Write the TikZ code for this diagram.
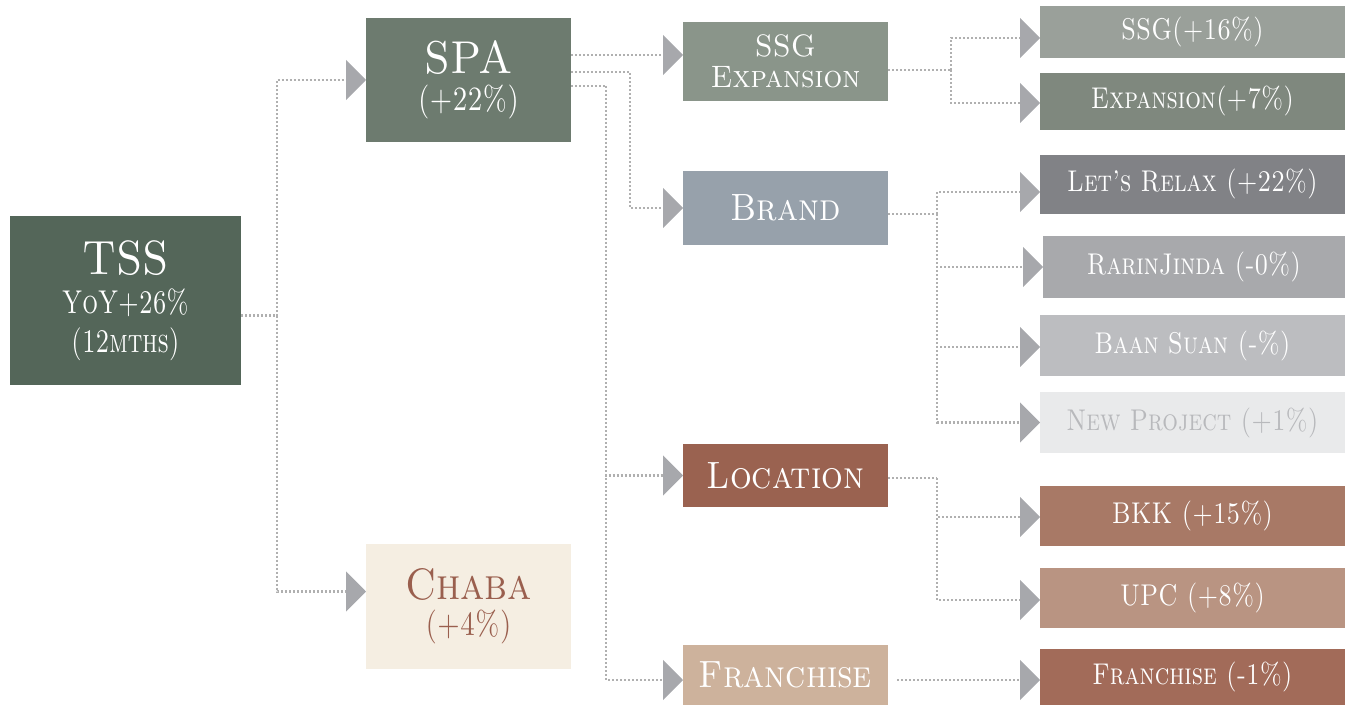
\documentclass[tikz,border=0pt]{standalone}
\usepackage{graphicx}
\usetikzlibrary{arrows.meta}
\definecolor{ctss}{HTML}{546659}
\definecolor{cspa}{HTML}{6D7B6F}
\definecolor{cchaba}{HTML}{F5EEE2}
\definecolor{tchaba}{HTML}{9A5F4E}
\definecolor{cssgx}{HTML}{8A958A}
\definecolor{cbrand}{HTML}{97A1AB}
\definecolor{cloc}{HTML}{9A6250}
\definecolor{cfran}{HTML}{CDB29C}
\definecolor{cssg}{HTML}{9AA09A}
\definecolor{cexp}{HTML}{7F887E}
\definecolor{clets}{HTML}{818286}
\definecolor{crarin}{HTML}{A8A9AC}
\definecolor{cbaan}{HTML}{BCBDC0}
\definecolor{cnew}{HTML}{E9EAEB}
\definecolor{tnew}{HTML}{B8B9BC}
\definecolor{cbkk}{HTML}{A87966}
\definecolor{cupc}{HTML}{B99482}
\definecolor{cfran2}{HTML}{A26B59}
\definecolor{tipgray}{HTML}{A7A8AC}
\definecolor{linegray}{HTML}{B0B0B0}
\newcommand{\fs}[2]{\fontsize{#1}{#2}\selectfont}
\newcommand{\sx}[2]{\scalebox{#1}[1]{#2}}
\newcommand{\rc}[1]{\sx{0.82}{#1}}
\newcommand{\mc}[1]{\sx{0.9}{#1}}
\tikzset{
  box/.style={rectangle, inner sep=0pt, outer sep=0pt, text=white, align=center, font=\scshape},
  rbox/.style={box, font=\scshape\fs{30}{32}},
  mbox/.style={box, font=\scshape\fs{38}{40}},
  conn/.style={draw=linegray, line width=2.2pt, dash pattern=on 2pt off 2pt,
    -{Triangle[width=40pt,length=20pt,color=tipgray]}},
  plain/.style={draw=linegray, line width=2.2pt, dash pattern=on 2pt off 2pt},
}
\begin{document}
\begin{tikzpicture}[x=1pt,y=-1pt]
\useasboundingbox (0,0) rectangle (1345,706);
% level 0
\node[box, font=\scshape\fs{33}{39}, fill=ctss, minimum width=231pt, minimum height=169pt] (tss) at (125.5,300.5)
  {\fs{48}{39}\sx{0.9}{TSS}\\\sx{0.75}{YoY+26\%}\\\sx{0.75}{(12mths)}};
% level 1
\node[box, font=\scshape\fs{34}{37}, fill=cspa, minimum width=205pt, minimum height=124pt] (spa) at (468.5,80)
  {\fs{46}{37}\sx{0.92}{SPA}\\\sx{0.8}{(+22\%)}};
\node[box, font=\scshape\fs{34}{36}, fill=cchaba, text=tchaba, minimum width=205pt, minimum height=125pt] (chaba) at (468.5,606.5)
  {\fs{44}{36}\sx{0.9}{Chaba}\\\sx{0.8}{(+4\%)}};
% level 2
\node[box, font=\scshape\fs{31}{31}, fill=cssgx, minimum width=205pt, minimum height=79pt] (ssgx) at (785.5,61.5)
  {\sx{0.95}{SSG}\\\sx{0.95}{Expansion}};
\node[mbox, fill=cbrand, minimum width=205pt, minimum height=74pt] (brand) at (785.5,208)
  {\mc{Brand}};
\node[mbox, fill=cloc, minimum width=205pt, minimum height=63pt] (loc) at (785.5,475.5)
  {\mc{Location}};
\node[mbox, fill=cfran, minimum width=205pt, minimum height=60pt] (fran) at (785.5,675)
  {\mc{Franchise}};
% level 3
\node[rbox, fill=cssg, minimum width=305pt, minimum height=52pt] (ssg) at (1192.5,32)
  {\rc{SSG(+16\%)}};
\node[rbox, fill=cexp, minimum width=305pt, minimum height=57pt] (exp) at (1192.5,101.5)
  {\rc{Expansion(+7\%)}};
\node[rbox, fill=clets, minimum width=305pt, minimum height=59pt] (lets) at (1192.5,184.5)
  {\rc{Let's Relax (+22\%)}};
\node[rbox, fill=crarin, minimum width=302pt, minimum height=62pt] (rarin) at (1194,267)
  {\rc{RarinJinda (-0\%)}};
\node[rbox, fill=cbaan, minimum width=305pt, minimum height=61pt] (baan) at (1192.5,345.5)
  {\rc{Baan Suan (-\%)}};
\node[rbox, fill=cnew, text=tnew, minimum width=305pt, minimum height=61pt] (new) at (1192.5,422.5)
  {\rc{New Project (+1\%)}};
\node[rbox, fill=cbkk, minimum width=305pt, minimum height=60pt] (bkk) at (1192.5,516)
  {\rc{BKK (+15\%)}};
\node[rbox, fill=cupc, minimum width=305pt, minimum height=60pt] (upc) at (1192.5,598)
  {\rc{UPC (+8\%)}};
\node[rbox, fill=cfran2, minimum width=305pt, minimum height=56pt] (fran2) at (1192.5,677)
  {\rc{Franchise (-1\%)}};
% connectors
\draw[plain] ([yshift=-15pt]tss.east) -- ++(36,0) coordinate (j0);
\draw[conn] (j0) |- (spa.west);
\draw[conn] (j0) |- ([yshift=15pt]chaba.west);
\draw[conn] ([yshift=25pt]spa.east) -- ([yshift=6.5pt]ssgx.west);
\draw[conn] ([yshift=8pt]spa.east) -- ++(59,0) |- (brand.west);
\draw[plain] ([yshift=-6pt]spa.east) -- ++(35,0) coordinate (j3);
\draw[conn] (j3) |- (loc.west);
\draw[conn] (j3) |- ([yshift=-5pt]fran.west);
\draw[plain] ([yshift=-8.5pt]ssgx.east) -- ++(63,0) coordinate (j4);
\draw[conn] (j4) |- ([yshift=-6pt]ssg.west);
\draw[conn] (j4) |- ([yshift=-1.5pt]exp.west);
\draw[plain] ([yshift=-6pt]brand.east) -- ++(49,0) coordinate (j5);
\draw[conn] (j5) |- ([yshift=-7.5pt]lets.west);
\draw[conn] (j5) |- (rarin.west);
\draw[conn] (j5) |- ([yshift=-1.5pt]baan.west);
\draw[conn] (j5) |- (new.west);
\draw[plain] ([yshift=-2.5pt]loc.east) -- ++(49,0) coordinate (j6);
\draw[conn] (j6) |- ([yshift=-1pt]bkk.west);
\draw[conn] (j6) |- ([yshift=-2pt]upc.west);
\draw[conn, shorten <=9pt] ([yshift=-5pt]fran.east) -- ([yshift=-3pt]fran2.west);
\end{tikzpicture}
\end{document}
